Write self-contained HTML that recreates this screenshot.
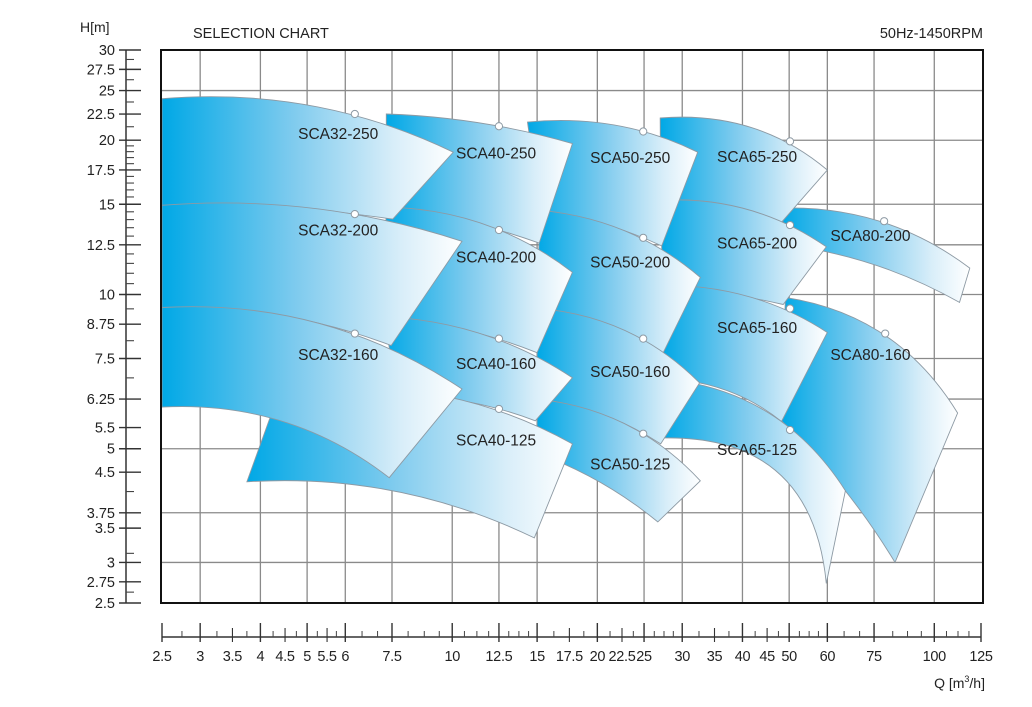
<!DOCTYPE html>
<html><head><meta charset="utf-8"><style>
html,body{margin:0;padding:0;background:#fff}
svg{display:block}
text{font-family:"Liberation Sans",Arial,sans-serif;fill:#222}
</style></head><body>
<svg id="chart" width="1032" height="707" viewBox="0 0 1032 707" xmlns="http://www.w3.org/2000/svg">
<defs>
<linearGradient id="grad" x1="0" y1="0" x2="1" y2="0">
<stop offset="0" stop-color="#00a8e6"/><stop offset="0.45" stop-color="#7fcbee"/><stop offset="0.8" stop-color="#d9eef9"/><stop offset="1" stop-color="#ffffff"/>
</linearGradient>
</defs>
<text x="80" y="32" font-size="14">H[m]</text>
<text x="193" y="38" font-size="14.5">SELECTION CHART</text>
<text x="983" y="38" font-size="14.5" text-anchor="end">50Hz-1450RPM</text>
<g id="grid"></g>
<g id="regions"></g>
<g id="marks"></g>
<rect x="161" y="50" width="822" height="553" fill="none" stroke="#111" stroke-width="2"/>
<g id="yaxis"></g>
<g id="xaxis"></g>
<text x="985" y="688" font-size="14" text-anchor="end">Q [m<tspan font-size="9" dy="-6">3</tspan><tspan dy="6">/h]</tspan></text>
</svg>
<script>
const gridQ=[3,4,5,6,7.5,10,12.5,15,20,25,30,40,50,60,75,100];
const gridH=[25,20,15,12.5,10,7.5,6.25,5,3.75,3];
const yTickLabels=[30,27.5,25,22.5,20,17.5,15,12.5,10,8.75,7.5,6.25,5.5,5,4.5,3.75,3.5,3,2.75,2.5];
const yMinor=[28.75,26.25,23.75,21.25,19.5,19,18.5,18,17,16.5,16,15.5,14.5,14,13.5,13,12,11.5,11,10.5,9.375,8.125,6.875,4.125,3.125,2.625];
const xTickLabels=[2.5,3,3.5,4,4.5,5,5.5,6,7.5,10,12.5,15,17.5,20,22.5,25,30,35,40,45,50,60,75,100,125];
const xMajor=[2.5,3,4,5,6,7.5,10,12.5,15,20,25,30,40,50,60,75,100,125];
const xMinor=[2.75,3.25,3.75,4.25,4.75,5.25,5.75,6.5,7,8.1,8.75,9.4,10.6,11.25,11.9,13.1,13.75,14.4,16.25,18.75,21.25,23.75,26.25,27.5,28.75,32.5,37.5,42.5,47.5,52.5,55,57.5,65,70,82,88,94,106,112,118];

const pumpNames=["SCA80-200","SCA80-160","SCA65-250","SCA65-200","SCA65-160","SCA65-125","SCA50-250","SCA50-200","SCA50-160","SCA50-125","SCA40-250","SCA40-200","SCA40-160","SCA40-125","SCA32-250","SCA32-200","SCA32-160"];
const topCurves=[
[[48.2,14.74],[60,14.48],[78.7,13.9],[118.5,11.26]],
[[49.1,9.87],[63.4,9.18],[79.1,8.39],[111.8,5.87]],
[[27.0,22.1],[32.3,21.9],[50.2,19.9],[60,17.5]],
[[27.07,15.27],[35.7,15.06],[50.2,13.66],[59.7,12.39]],
[[27.3,10.42],[35.7,10.1],[50.2,9.39],[60,8.43]],
[[27.3,6.85],[41.9,6.17],[50.2,5.44],[65.4,4.14]],
[[14.33,21.7],[24.9,20.8],[32.3,18.95]],
[[15.2,14.6],[20.47,13.73],[24.9,12.9],[32.7,10.8]],
[[15.0,9.4],[20.47,8.82],[24.9,8.2],[32.6,6.72]],
[[15.0,6.25],[20.47,5.84],[24.9,5.35],[32.7,4.33]],
[[7.3,22.5],[12.5,21.3],[17.75,19.7]],
[[7.3,14.8],[10.05,14.29],[12.5,13.36],[17.75,11.05]],
[[7.2,9.05],[10.05,8.62],[12.5,8.2],[17.75,6.88]],
[[4.37,6.42],[9.92,6.25],[12.5,5.98],[17.75,5.11]],
[[2.5,24.1],[3.5,24.1],[6.28,22.5],[10.05,18.95]],
[[2.5,14.93],[3.4,15.06],[6.28,14.35],[10.48,12.7]],
[[2.5,9.43],[3.0,9.43],[4.44,9.1],[6.28,8.39],[10.48,6.54]]
];
const bottomCurves=[
[[49.1,12.5],[78.7,11.26],[112.8,9.65]],
[[48.2,5.67],[58,4.8],[67.1,3.96],[82.9,3.0]],
[[27.07,15.27],[35.7,15.06],[48.2,13.83]],
[[27.3,10.42],[35.7,10.1],[48.6,9.56]],
[[27.3,6.85],[41.9,6.17],[48.2,5.65]],
[[27.5,5.25],[35.7,5.18],[51.5,4.27],[55.7,3.41],[59.7,2.73]],
[[15.2,14.6],[24.9,12.9],[27.2,12.44]],
[[15.0,9.4],[20.47,8.82],[24.9,8.2],[27.4,7.7]],
[[15.0,6.25],[20.47,5.84],[24.9,5.35],[27.07,5.11]],
[[15.0,4.9],[17.15,4.67],[20.47,4.27],[26.7,3.6]],
[[7.3,14.8],[12.5,13.36],[15.15,12.6]],
[[7.2,9.05],[10.05,8.62],[12.5,8.2],[15,7.7]],
[[7.73,6.35],[9.92,6.25],[12.5,5.98],[14.87,5.67]],
[[3.75,4.31],[5.07,4.29],[7.47,4.14],[10.05,3.9],[14.8,3.35]],
[[2.5,14.93],[6.28,14.35],[7.53,14.03]],
[[2.5,9.43],[3.0,9.43],[4.44,9.1],[6.28,8.39],[7.47,7.95]],
[[2.5,6.03],[3.0,6.0],[4.0,5.79],[6.12,5.02],[7.4,4.39]]
];
const dotQ=[78.7,79.1,50.2,50.2,50.2,50.2,24.9,24.9,24.9,24.9,12.5,12.5,12.5,12.5,6.28,6.28,6.28];
const dotH=[13.9,8.39,19.9,13.66,9.39,5.44,20.8,12.9,8.2,5.35,21.3,13.36,8.2,5.98,22.5,14.35,8.39];
const labelQ=[73.7,73.7,42.9,42.9,42.9,42.9,23.4,23.4,23.4,23.4,12.33,12.33,12.33,12.33,5.8,5.8,5.8];
const labelH=[13.03,7.64,18.6,12.6,8.62,4.98,18.5,11.57,7.07,4.67,18.87,11.84,7.33,5.2,20.6,13.36,7.64];

const NS="http://www.w3.org/2000/svg";
const X=q=>162+Math.log10(q/2.5)/Math.log10(50)*819;
const Y=h=>603-Math.log10(h/2.5)/Math.log10(12)*553;
function mk(tag,attrs,parent){const e=document.createElementNS(NS,tag);for(const k in attrs)e.setAttribute(k,attrs[k]);parent.appendChild(e);return e;}
// quadratic Bezier with fixed ends, control point least-squares fitted to interior points
function quadPath(pts,move){
  const P0=pts[0],P2=pts[pts.length-1];
  let C;
  if(pts.length<3){C=[(P0[0]+P2[0])/2,(P0[1]+P2[1])/2];}
  else{
    const L=[0];for(let i=1;i<pts.length;i++)L.push(L[i-1]+Math.hypot(pts[i][0]-pts[i-1][0],pts[i][1]-pts[i-1][1]));
    let sx=0,sy=0,sw=0;
    for(let i=1;i<pts.length-1;i++){
      const t=L[i]/L[L.length-1],w=2*t*(1-t);
      sx+=w*(pts[i][0]-(1-t)*(1-t)*P0[0]-t*t*P2[0]);
      sy+=w*(pts[i][1]-(1-t)*(1-t)*P0[1]-t*t*P2[1]);
      sw+=w*w;
    }
    C=[sx/sw,sy/sw];
  }
  return (move?'M':'L')+P0[0].toFixed(1)+','+P0[1].toFixed(1)+'Q'+C[0].toFixed(1)+','+C[1].toFixed(1)+' '+P2[0].toFixed(1)+','+P2[1].toFixed(1);
}
const grid=document.getElementById('grid');
gridQ.forEach(q=>{const l=mk('line',{x1:X(q),x2:X(q),y1:50,y2:603,stroke:'#8a8a8a','stroke-width':1.3},grid);

});
gridH.forEach(h=>{const l=mk('line',{x1:161,x2:983,y1:Y(h),y2:Y(h),stroke:'#8a8a8a','stroke-width':1.3},grid);

});

const regions=document.getElementById('regions');
pumpNames.forEach((n,i)=>{
  const top=topCurves[i].map(p=>[X(p[0]),Y(p[1])]);
  const bot=bottomCurves[i].map(p=>[X(p[0]),Y(p[1])]).reverse();
  const d=quadPath(top,true)+quadPath(bot,false)+'Z';
  const p=mk('path',{d:d,fill:'url(#grad)',stroke:'#8d9aa4','stroke-width':0.9},regions);
  
  
});
const marks=document.getElementById('marks');
pumpNames.forEach((n,i)=>{
  const c=mk('circle',{cx:X(dotQ[i]),cy:Y(dotH[i]),r:3.6,fill:'#fff',stroke:'#8d9aa4','stroke-width':1},marks);
  
  
  const t=mk('text',{x:X(labelQ[i]),y:Y(labelH[i])+5.5,'font-size':15.5,'text-anchor':'middle'},marks);
  t.textContent=n;
  
  
});

const ya=document.getElementById('yaxis');
const yl=mk('line',{x1:126,x2:126,y1:50,y2:603,stroke:'#333','stroke-width':1.5},ya);


yTickLabels.forEach(h=>{
  const l=mk('line',{x1:119,x2:141,y1:Y(h),y2:Y(h),stroke:'#333','stroke-width':1.4},ya);
  
  
  const t=mk('text',{x:115,y:Y(h)+5,'font-size':14.5,'text-anchor':'end'},ya);
  t.textContent=String(h);
  
  
});
yMinor.forEach(h=>{const l=mk('line',{x1:126,x2:134,y1:Y(h),y2:Y(h),stroke:'#444','stroke-width':1.1},ya);

});

const xa=document.getElementById('xaxis');
const xl=mk('line',{x1:X(2.5),x2:X(125),y1:637,y2:637,stroke:'#333','stroke-width':1.5},xa);


xMajor.forEach(q=>{const l=mk('line',{x1:X(q),x2:X(q),y1:623,y2:642,stroke:'#333','stroke-width':1.4},xa);

});
xTickLabels.filter(q=>xMajor.indexOf(q)<0).forEach(q=>{const l=mk('line',{x1:X(q),x2:X(q),y1:628,y2:642,stroke:'#333','stroke-width':1.1},xa);

});
xMinor.forEach(q=>{const l=mk('line',{x1:X(q),x2:X(q),y1:631,y2:637,stroke:'#444','stroke-width':1},xa);

});
xTickLabels.forEach(q=>{
  const t=mk('text',{x:X(q),y:661,'font-size':14.5,'text-anchor':'middle','letter-spacing':'-0.3'},xa);
  t.textContent=String(q);
  
  
});
</script>
</body></html>
